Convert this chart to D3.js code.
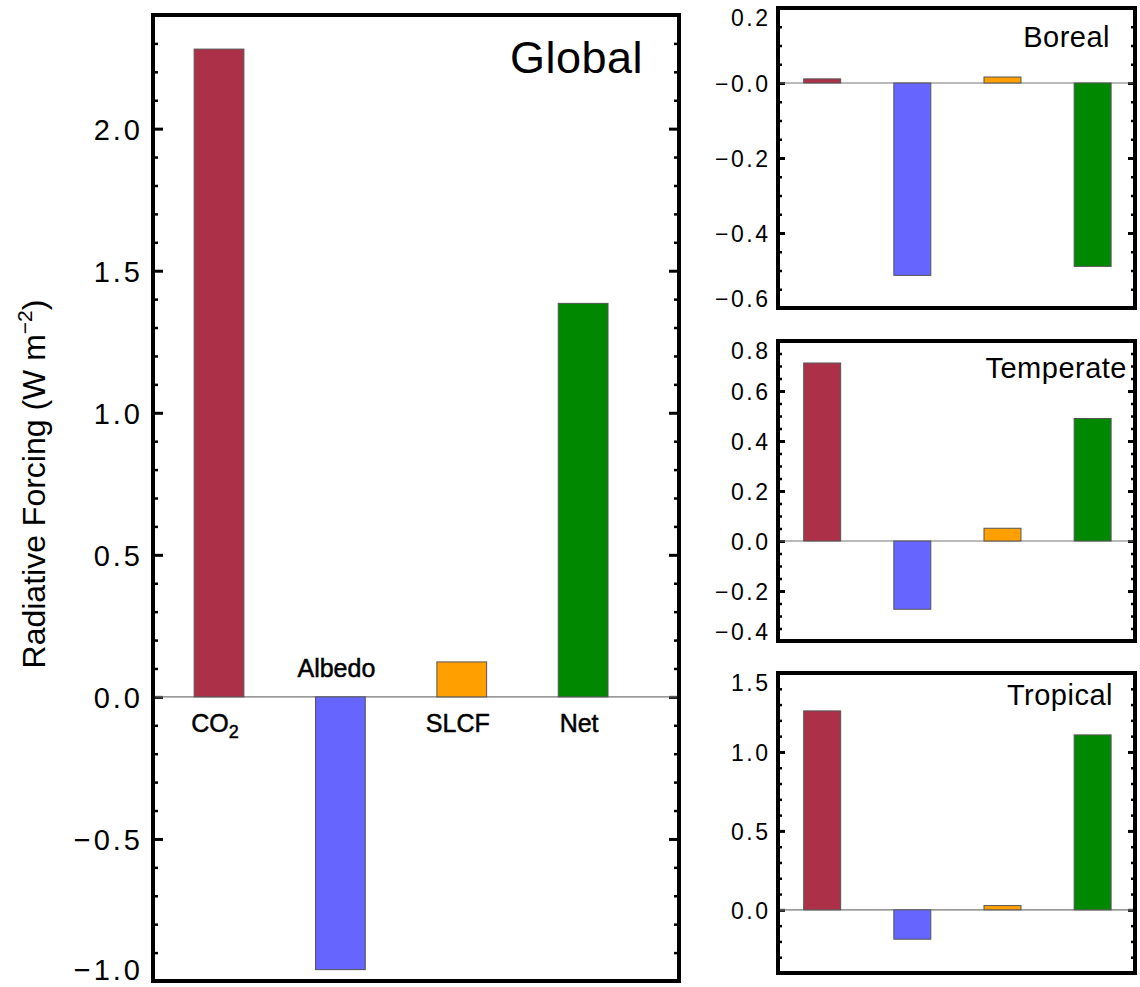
<!DOCTYPE html>
<html>
<head>
<meta charset="utf-8">
<script src="https://cdn.jsdelivr.net/npm/d3@7"></script>
<style>
  body { margin: 0; background: #fff; }
  text { font-family: "Liberation Sans", Arial, sans-serif; fill: #000; }
</style>
</head>
<body>
<div id="chart"></div>
<script>
// categories and colours
var categories = ["CO2", "Albedo", "SLCF", "Net"];
var barColors = ["#ad3049", "#6666ff", "#ffa000", "#008800"];

// radiative forcing values (W m-2)
var globalValues    = [2.28, -0.96, 0.123, 1.385];
var borealValues    = [0.011, -0.513, 0.016, -0.489];
var temperateValues = [0.712, -0.273, 0.051, 0.49];
var tropicalValues  = [1.26, -0.186, 0.027, 1.108];

// axis ranges and tick labels
var globalDomain = [-1.0, 2.4];
var globalTicks = [-1.0, -0.5, 0.0, 0.5, 1.0, 1.5, 2.0];
var globalTickLabels = ["\u22121.0", "\u22120.5", "0.0", "0.5", "1.0", "1.5", "2.0"];

var borealDomain = [-0.6, 0.2];
var borealTicks = [-0.6, -0.4, -0.2, 0.0, 0.2];
var borealTickLabels = ["\u22120.6", "\u22120.4", "\u22120.2", "\u22120.0", "0.2"];

var temperateDomain = [-0.4, 0.8];
var temperateTicks = [-0.4, -0.2, 0.0, 0.2, 0.4, 0.6, 0.8];
var temperateTickLabels = ["\u22120.4", "\u22120.2", "0.0", "0.2", "0.4", "0.6", "0.8"];

var tropicalDomain = [-0.4, 1.5];
var tropicalTicks = [0.0, 0.5, 1.0, 1.5];
var tropicalTickLabels = ["0.0", "0.5", "1.0", "1.5"];

var width = 1140, height = 987;

var svg = d3.select("#chart")
    .append("svg")
        .attr("width", width)
        .attr("height", height);

var drawPanel = function(p) {
    var g = svg.append("g")
        .attr("transform", "translate(" + p.left + "," + p.top + ")");

    var x = d3.scaleLinear().domain(p.xDomain).range([0, p.w]);
    var y = d3.scaleLinear().domain(p.yDomain).range([p.h, 0]);
    var barW = 0.41;

    // minor ticks, every minorStep, skipping the labelled ones
    var minor = [];
    var n = Math.round((p.yDomain[1] - p.yDomain[0]) / p.minorStep);
    for (var i = 0; i <= n; i++) {
        var v = +(p.yDomain[0] + i * p.minorStep).toFixed(4);
        if (!p.ticks.some(function(t) { return Math.abs(t - v) < 1e-6; })) minor.push(v);
    }

    var styleAxis = function(sel, sw) {
        sel.select(".domain").remove();
        sel.selectAll("line").attr("stroke", "#000").attr("stroke-width", sw);
    };

    g.append("g")
        .call(d3.axisLeft(y).tickValues(minor).tickSize(-p.minorLen).tickFormat(""))
        .call(styleAxis, 2.5);
    g.append("g")
        .attr("transform", "translate(" + p.w + ",0)")
        .call(d3.axisRight(y).tickValues(minor).tickSize(-p.minorLen).tickFormat(""))
        .call(styleAxis, 2.5);
    g.append("g")
        .attr("transform", "translate(" + p.w + ",0)")
        .call(d3.axisRight(y).tickValues(p.ticks).tickSize(-p.majorLen).tickFormat(""))
        .call(styleAxis, 3);

    var left = g.append("g")
        .call(d3.axisLeft(y)
            .tickValues(p.ticks)
            .tickSizeInner(-p.majorLen)
            .tickSizeOuter(0)
            .tickPadding(p.labelPad + p.majorLen)
            .tickFormat(function(d, i) { return p.tickLabels[i]; }))
        .call(styleAxis, 3);
    left.selectAll("text")
        .attr("font-size", p.tickFont + "px")
        .attr("letter-spacing", p.tickSpacing + "px")
        .attr("fill", "#000")
        .attr("font-family", "\"Liberation Sans\", Arial, sans-serif")
        .attr("dy", function(d) {
            if (Math.abs(d - p.yDomain[1]) < 1e-6) return "0.78em";
            if (Math.abs(d - p.yDomain[0]) < 1e-6) return "-0.05em";
            return "0.36em";
        });

    // zero line
    g.append("line")
        .attr("x1", 0).attr("x2", p.w)
        .attr("y1", y(0)).attr("y2", y(0))
        .attr("stroke", "#777")
        .attr("stroke-width", 1.2);

    g.selectAll("rect.bar")
        .data(p.values)
        .enter()
        .append("rect")
        .attr("class", "bar")
        .attr("x", function(d, i) { return x(i - barW / 2); })
        .attr("y", function(d) { return Math.min(y(d), y(0)); })
        .attr("width", x(barW) - x(0))
        .attr("height", function(d) { return Math.abs(y(d) - y(0)); })
        .style("fill", function(d, i) { return barColors[i]; })
        .style("stroke", "#555")
        .style("stroke-width", 1);

    // frame
    g.append("rect")
        .attr("width", p.w)
        .attr("height", p.h)
        .attr("fill", "none")
        .attr("stroke", "#000")
        .attr("stroke-width", 4);

    g.append("text")
        .attr("x", p.w - p.titleRight)
        .attr("y", p.titleBase)
        .attr("text-anchor", "end")
        .attr("font-size", p.titleFont + "px")
        .attr("letter-spacing", "0.5px")
        .text(p.title);

    return {g: g, x: x, y: y};
};

var glob = drawPanel({
    left: 153, top: 15, w: 526, h: 966,
    xDomain: [-0.544, 3.79], yDomain: globalDomain,
    ticks: globalTicks, tickLabels: globalTickLabels, minorStep: 0.1,
    majorLen: 10, minorLen: 5, labelPad: 0, tickFont: 29, tickSpacing: 3,
    values: globalValues,
    title: "Global", titleFont: 45, titleRight: 36, titleBase: 58
});

drawPanel({
    left: 778, top: 8, w: 357, h: 300,
    xDomain: [-0.49, 3.47], yDomain: borealDomain,
    ticks: borealTicks, tickLabels: borealTickLabels, minorStep: 0.05,
    majorLen: 7, minorLen: 4, labelPad: 0.5, tickFont: 23, tickSpacing: 2.5,
    values: borealValues,
    title: "Boreal", titleFont: 29, titleRight: 25, titleBase: 39
});

drawPanel({
    left: 778, top: 341, w: 357, h: 300,
    xDomain: [-0.49, 3.47], yDomain: temperateDomain,
    ticks: temperateTicks, tickLabels: temperateTickLabels, minorStep: 0.05,
    majorLen: 7, minorLen: 4, labelPad: 0.5, tickFont: 23, tickSpacing: 2.5,
    values: temperateValues,
    title: "Temperate", titleFont: 29, titleRight: 8, titleBase: 37
});

drawPanel({
    left: 778, top: 673, w: 357, h: 300,
    xDomain: [-0.49, 3.47], yDomain: tropicalDomain,
    ticks: tropicalTicks, tickLabels: tropicalTickLabels, minorStep: 0.1,
    majorLen: 7, minorLen: 4, labelPad: 0.5, tickFont: 23, tickSpacing: 2.5,
    values: tropicalValues,
    title: "Tropical", titleFont: 29, titleRight: 22, titleBase: 32
});

// category labels in the global panel: above zero for negative bars, below for positive
var catLabels = glob.g.selectAll("text.cat")
    .data(globalValues)
    .enter()
    .append("text")
    .attr("class", "cat")
    .attr("x", function(d, i) { return glob.x(i) - 4; })
    .attr("y", function(d) { return d < 0 ? glob.y(0) - 20 : glob.y(0) + 35; })
    .attr("text-anchor", "middle")
    .attr("font-size", "25px")
    .style("stroke", "#000")
    .style("stroke-width", 0.5);
catLabels.each(function(d, i) {
    var t = d3.select(this);
    if (categories[i] === "CO2") {
        t.append("tspan").text("CO");
        t.append("tspan").attr("font-size", "18px").attr("dy", 6).text("2");
    } else {
        t.text(categories[i]);
    }
});

// y axis title
var yTitle = svg.append("text")
    .attr("transform", "translate(45,484) rotate(-90)")
    .attr("text-anchor", "middle")
    .attr("font-size", "32px");
yTitle.append("tspan").text("Radiative Forcing (W m");
yTitle.append("tspan").attr("font-size", "21px").attr("dy", -13).text("\u22122");
yTitle.append("tspan").attr("dy", 13).text(")");
</script>
</body>
</html>
